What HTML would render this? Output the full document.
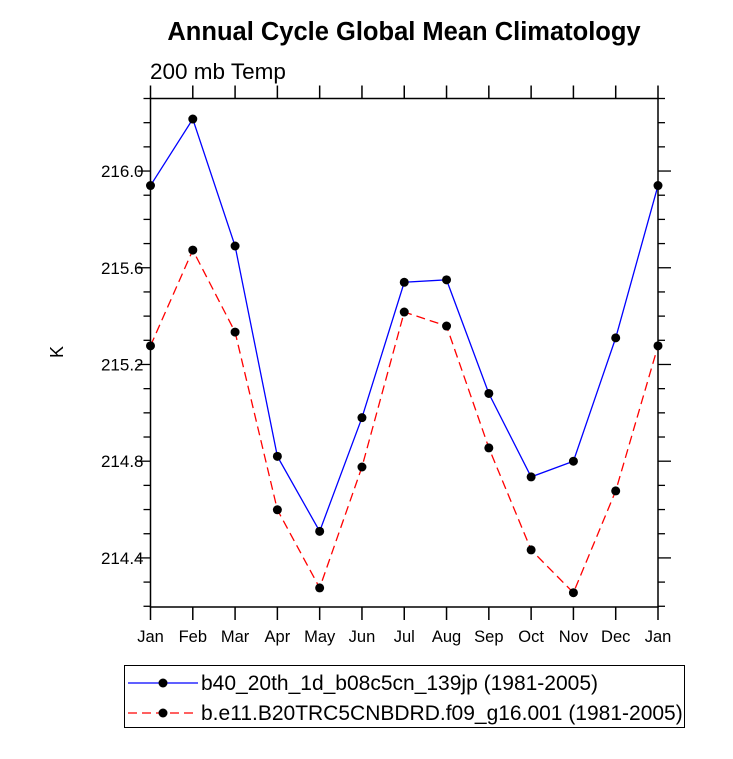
<!DOCTYPE html>
<html><head><meta charset="utf-8"><style>
body{margin:0;background:#fff;font-family:"Liberation Sans",Arial,sans-serif}
svg text{font-family:"Liberation Sans",Arial,sans-serif}
</style></head><body>
<svg id="c" width="733" height="754" xmlns="http://www.w3.org/2000/svg">
<text x="404" y="40" text-anchor="middle" font-size="25.5" font-weight="bold">Annual Cycle Global Mean Climatology</text>
<text x="150" y="79" font-size="22.5">200 mb Temp</text>
<text transform="translate(63,352) rotate(-90)" text-anchor="middle" font-size="18">K</text>
<g id="axes"></g><g id="series"></g>
<rect x="124.5" y="665.5" width="560" height="62" fill="none" stroke="#000" stroke-width="1"/>
<g>
<line x1="128" y1="683" x2="198" y2="683" stroke="#00f" stroke-width="1.3"/><circle cx="163" cy="683" r="4.5"/>
<text x="201" y="690" font-size="21">b40_20th_1d_b08c5cn_139jp (1981-2005)</text></g>
<g>
<line x1="128" y1="713" x2="198" y2="713" stroke="#f00" stroke-width="1.3" stroke-dasharray="9,5"/><circle cx="163" cy="713" r="4.5"/>
<text x="201" y="720" font-size="21">b.e11.B20TRC5CNBDRD.f09_g16.001 (1981-2005)</text></g>
</svg>
<script>
const months=["Jan","Feb","Mar","Apr","May","Jun","Jul","Aug","Sep","Oct","Nov","Dec","Jan"];
const blueVals=[215.94,216.215,215.69,214.82,214.51,214.98,215.54,215.55,215.08,214.735,214.80,215.31,215.94];
const redVals=[215.277,215.673,215.334,214.599,214.276,214.776,215.417,215.359,214.855,214.433,214.256,214.677,215.277];
const yTicks=["214.4","214.8","215.2","215.6","216.0"];
const NS="http://www.w3.org/2000/svg";
const L=150.5,R=658,T=98.5,B=607,YMIN=214.197,YMAX=216.3;
const xs=i=>L+i*(R-L)/12;
const ys=v=>B-(v-YMIN)/(YMAX-YMIN)*(B-T);
function mk(p,tag,a){const e=document.createElementNS(NS,tag);for(const k in a)e.setAttribute(k,a[k]);p.appendChild(e);return e;}
const ax=document.getElementById('axes');
const fr=mk(ax,'rect',{x:L,y:T,width:R-L,height:B-T,fill:'none',stroke:'#000','stroke-width':1.5});


months.forEach((m,i)=>{
 const x=xs(i);
 mk(ax,'line',{x1:x,y1:B,x2:x,y2:B+13,stroke:'#000','stroke-width':1.5});
 mk(ax,'line',{x1:x,y1:T,x2:x,y2:T-13,stroke:'#000','stroke-width':1.5});
 const t=mk(ax,'text',{x:x,y:B+35,'text-anchor':'middle','font-size':'16.5'});t.textContent=m;
 
 
});
for(let v=214.2;v<=216.31;v+=0.1){
 const y=ys(v);const maj=Math.abs((v*10)%4)<0.01||Math.abs((v*10)%4-4)<0.01;
 const len=maj?13:7;
 mk(ax,'line',{x1:L,y1:y,x2:L-len,y2:y,stroke:'#000','stroke-width':1.3});
 mk(ax,'line',{x1:R,y1:y,x2:R+len,y2:y,stroke:'#000','stroke-width':1.3});
}
yTicks.forEach(s=>{
 const t=mk(ax,'text',{x:L-7,y:ys(+s)+6,'text-anchor':'end','font-size':'17'});t.textContent=s;
 
 
});
const sg=document.getElementById('series');
function series(vals,color,dash,name){
 const g=mk(sg,'g',{});
 
 
 mk(g,'polyline',{points:vals.map((v,i)=>xs(i)+','+ys(v)).join(' '),fill:'none',stroke:color,'stroke-width':1.3,'stroke-dasharray':dash});
 vals.forEach((v,i)=>{const c=mk(g,'circle',{cx:xs(i),cy:ys(v),r:4.5,fill:'#000'});
  
  });
}
series(redVals,'#f00','9,5','series-red');
series(blueVals,'#00f','none','series-blue');
</script>
</body></html>
